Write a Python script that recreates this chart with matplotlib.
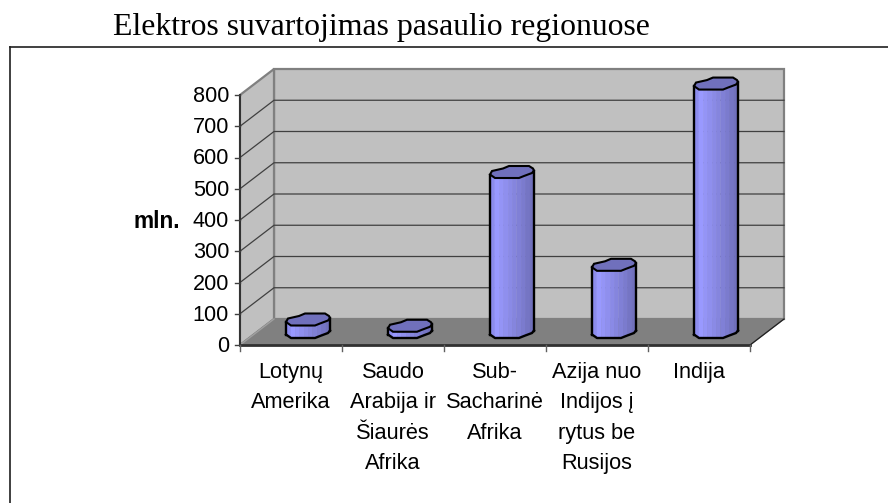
import numpy as np
import matplotlib
matplotlib.use('Agg')
import matplotlib.pyplot as plt
from matplotlib.patches import Polygon

title = 'Elektros suvartojimas pasaulio regionuose'
categories = ['Lotynų\nAmerika', 'Saudo\nArabija ir\nŠiaurės\nAfrika', 'Sub-\nSacharinė\nAfrika',
              'Azija nuo\nIndijos į\nrytus be\nRusijos', 'Indija']
values = [40, 20, 512, 215, 795]
y_ticks = [0, 100, 200, 300, 400, 500, 600, 700, 800]
y_label = 'mln.'

W, H = 888, 503
fig = plt.figure(figsize=(W / 100, H / 100), dpi=100)

# front plane of the fake 3d box, in pixels
left, right, top, bottom = 240, 750, 95, 345
ax = fig.add_axes([left / W, 1 - bottom / H, (right - left) / W, (bottom - top) / H])
ax.set_xlim(0, 5)
ax.set_ylim(0, 800)
ax.axis('off')

px_x = 5 / (right - left)      # data units per pixel
px_y = 800 / (bottom - top)
dx = 34 * px_x                 # depth of the box
dy = 26 * px_y


def poly(pts, **kw):
    ax.add_patch(Polygon(pts, closed=True, clip_on=False, **kw))


# walls and floor
poly([(dx, dy), (5 + dx, dy), (5 + dx, 800 + dy), (dx, 800 + dy)], fc='#c0c0c0', ec='#808080', lw=1.6, zorder=1)
poly([(0, 0), (dx, dy), (dx, 800 + dy), (0, 800)], fc='#c0c0c0', ec='#808080', lw=1.6, zorder=1)
poly([(0, 0), (5, 0), (5 + dx, dy), (dx, dy)], fc='#808080', ec='#808080', lw=1, zorder=1)

# gridlines
for v in y_ticks[1:-1]:
    ax.plot([0, dx, 5 + dx], [v, v + dy, v + dy], color='#404040', lw=0.9, clip_on=False, zorder=2)
ax.plot([5, 5 + dx], [0, dy], color='#202020', lw=0.9, clip_on=False, zorder=2)
ax.plot([0, dx], [0, dy], color='#a0a0a0', lw=1.0, clip_on=False, zorder=2)

# axes lines and ticks
ax.plot([0, 0], [0, 800], color='#303030', lw=1.4, clip_on=False, zorder=3)
ax.plot([0, 5], [0, 0], color='#303030', lw=2.0, clip_on=False, zorder=3)
for v in y_ticks:
    ax.plot([-5 * px_x, 0], [v, v], color='#404040', lw=1.0, clip_on=False, zorder=3)
    ax.text(-11 * px_x, v - 1.5 * px_y, str(v), ha='right', va='center', fontsize=15.6, family='Liberation Sans',
            color='black')
for i in range(6):
    ax.plot([i, i], [0, -6 * px_y], color='#606060', lw=1.0, clip_on=False, zorder=3)

for i, lab in enumerate(categories):
    ax.text(i + 0.5, -17 * px_y, lab, ha='center', va='top', fontsize=15.7, family='Liberation Sans',
            linespacing=1.58, color='black')

# cylinders, outline in pixels around the centre of the base / top
lower = np.array([(-22, 2.5), (-17, 6), (7, 6), (12, 4), (20, 1), (22, -1.5)], dtype=float)
upper = np.array([(22, -1.5), (21, -3.5), (17, -6), (-3, -6), (-9, -3.5), (-20, -1), (-22, 2.5)], dtype=float)
shades = ['#8c8ced', '#9999ff', '#9494f6', '#8f8fee', '#8a8ae6', '#8585de', '#8080d6', '#7b7bce', '#7575c4', '#7070bc']

for i, val in enumerate(values):
    cx = i + 0.5 + dx / 2
    cy = dy / 2
    edges = np.linspace(-22, 22, len(shades) + 1)
    for j, c in enumerate(shades):
        xs = np.array([edges[j], edges[j + 1]])
        yb = np.interp(xs, lower[:, 0], lower[:, 1])
        ax.fill_between(cx + xs * px_x, cy - yb * px_y, cy + val - yb * px_y, color=c, lw=0.4,
                        clip_on=False, zorder=4)
    # top cap
    cap = np.vstack([lower, upper])
    poly(np.c_[cx + cap[:, 0] * px_x, cy + val - cap[:, 1] * px_y], fc='#7070bc', ec='black', lw=1.5, zorder=5)
    # silhouette
    ax.plot(cx + lower[:, 0] * px_x, cy - lower[:, 1] * px_y, color='black', lw=1.7, clip_on=False, zorder=5)
    for s in (lower[0], lower[-1]):
        ax.plot([cx + s[0] * px_x] * 2, [cy - s[1] * px_y, cy + val - s[1] * px_y], color='black', lw=1.7,
                clip_on=False, zorder=5)

fig.text(180 / W, 1 - 221 / H, y_label, ha='right', va='center', fontsize=16.3, fontweight='bold',
         family='Liberation Sans')
fig.text(113 / W, 1 - 28 / H, title, ha='left', va='center', fontsize=22.9, family='Liberation Serif', color='black')

# outer frame of the chart object
fig.add_artist(plt.Line2D([10 / W, 10 / W], [0, 1 - 47 / H], color='#303030', lw=1.3))
fig.add_artist(plt.Line2D([10 / W, 1], [1 - 47 / H, 1 - 47 / H], color='#202020', lw=1.2))

fig.savefig('out.png', dpi=100)
